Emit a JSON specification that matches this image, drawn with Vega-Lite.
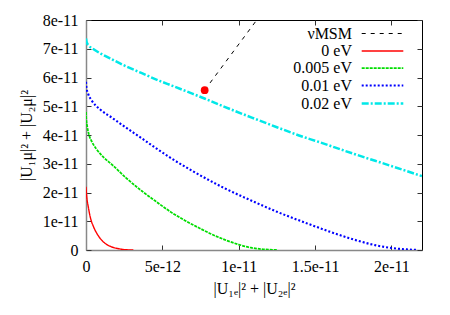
{
  "$schema": "https://vega.github.io/schema/vega-lite/v6.json",
  "width": 336,
  "height": 230,
  "autosize": "none",
  "padding": {"left": 86, "top": 20, "right": 28, "bottom": 65},
  "background": "white",
  "config": {
    "view": {"stroke": "black", "strokeWidth": 1},
    "font": "Liberation Serif",
    "axis": {
      "labelFont": "Liberation Serif", "labelFontSize": 16, "labelColor": "black",
      "titleFont": "Liberation Serif", "titleFontSize": 16, "titleFontWeight": "normal", "titleColor": "black",
      "grid": false, "tickSize": -5, "tickColor": "#333", "domainColor": "#888", "domainWidth": 1.5,
      "labelFlush": false, "labelOverlap": false
    },
    "legend": {
      "orient": "none", "legendX": 287, "legendY": 5, "padding": 0,
      "symbolType": "M-2.6,0H2.6", "symbolSize": 256, "labelAlign": "right", "labelOffset": -40,
      "labelFont": "Liberation Serif", "labelFontSize": 16, "labelColor": "black",
      "rowPadding": 0, "labelLimit": 0
    }
  },
  "datasets": {
    "curves": [
      {"s": "νMSM", "x": 7.77e-12, "y": 5.56e-11},
      {"s": "νMSM", "x": 1.118e-11, "y": 8.0e-11},
      {"s": "0 eV", "x": 0, "y": 2.2e-11},
      {"s": "0 eV", "x": 5e-14, "y": 1.85e-11},
      {"s": "0 eV", "x": 1.5e-13, "y": 1.5e-11},
      {"s": "0 eV", "x": 3e-13, "y": 1.1e-11},
      {"s": "0 eV", "x": 5e-13, "y": 8e-12},
      {"s": "0 eV", "x": 8e-13, "y": 5e-12},
      {"s": "0 eV", "x": 1.1e-12, "y": 3e-12},
      {"s": "0 eV", "x": 1.5e-12, "y": 1.5e-12},
      {"s": "0 eV", "x": 2.0e-12, "y": 6e-13},
      {"s": "0 eV", "x": 2.5e-12, "y": 1.5e-13},
      {"s": "0 eV", "x": 3.1e-12, "y": 0},
      {"s": "0.005 eV", "x": 0, "y": 4.8e-11},
      {"s": "0.005 eV", "x": 2e-14, "y": 4.55e-11},
      {"s": "0.005 eV", "x": 8e-14, "y": 4.3e-11},
      {"s": "0.005 eV", "x": 2e-13, "y": 4.0e-11},
      {"s": "0.005 eV", "x": 4e-13, "y": 3.75e-11},
      {"s": "0.005 eV", "x": 7e-13, "y": 3.5e-11},
      {"s": "0.005 eV", "x": 1.2e-12, "y": 3.2e-11},
      {"s": "0.005 eV", "x": 1.7e-12, "y": 2.97e-11},
      {"s": "0.005 eV", "x": 2.6e-12, "y": 2.52e-11},
      {"s": "0.005 eV", "x": 3.66e-12, "y": 2.05e-11},
      {"s": "0.005 eV", "x": 4.5e-12, "y": 1.72e-11},
      {"s": "0.005 eV", "x": 5.61e-12, "y": 1.3e-11},
      {"s": "0.005 eV", "x": 6.5e-12, "y": 1.02e-11},
      {"s": "0.005 eV", "x": 7.5e-12, "y": 7.4e-12},
      {"s": "0.005 eV", "x": 8.3e-12, "y": 5.3e-12},
      {"s": "0.005 eV", "x": 9.07e-12, "y": 3.6e-12},
      {"s": "0.005 eV", "x": 1.0e-11, "y": 1.9e-12},
      {"s": "0.005 eV", "x": 1.08e-11, "y": 8e-13},
      {"s": "0.005 eV", "x": 1.15e-11, "y": 3e-13},
      {"s": "0.005 eV", "x": 1.25e-11, "y": 0},
      {"s": "0.01 eV", "x": 0, "y": 5.85e-11},
      {"s": "0.01 eV", "x": 3e-14, "y": 5.65e-11},
      {"s": "0.01 eV", "x": 1.5e-13, "y": 5.42e-11},
      {"s": "0.01 eV", "x": 4e-13, "y": 5.18e-11},
      {"s": "0.01 eV", "x": 9e-13, "y": 4.9e-11},
      {"s": "0.01 eV", "x": 1.7e-12, "y": 4.6e-11},
      {"s": "0.01 eV", "x": 2.5e-12, "y": 4.3e-11},
      {"s": "0.01 eV", "x": 3.66e-12, "y": 3.88e-11},
      {"s": "0.01 eV", "x": 4.5e-12, "y": 3.57e-11},
      {"s": "0.01 eV", "x": 5.61e-12, "y": 3.18e-11},
      {"s": "0.01 eV", "x": 7.0e-12, "y": 2.74e-11},
      {"s": "0.01 eV", "x": 9.07e-12, "y": 2.15e-11},
      {"s": "0.01 eV", "x": 1.103e-11, "y": 1.67e-11},
      {"s": "0.01 eV", "x": 1.25e-11, "y": 1.33e-11},
      {"s": "0.01 eV", "x": 1.43e-11, "y": 9.6e-12},
      {"s": "0.01 eV", "x": 1.6e-11, "y": 6.3e-12},
      {"s": "0.01 eV", "x": 1.756e-11, "y": 3.6e-12},
      {"s": "0.01 eV", "x": 1.9e-11, "y": 1.6e-12},
      {"s": "0.01 eV", "x": 2.0e-11, "y": 7e-13},
      {"s": "0.01 eV", "x": 2.1e-11, "y": 2e-13},
      {"s": "0.01 eV", "x": 2.17e-11, "y": 0},
      {"s": "0.02 eV", "x": 0, "y": 7.36e-11},
      {"s": "0.02 eV", "x": 5e-14, "y": 7.22e-11},
      {"s": "0.02 eV", "x": 2e-13, "y": 7.1e-11},
      {"s": "0.02 eV", "x": 5e-13, "y": 6.98e-11},
      {"s": "0.02 eV", "x": 1.0e-12, "y": 6.82e-11},
      {"s": "0.02 eV", "x": 1.7e-12, "y": 6.63e-11},
      {"s": "0.02 eV", "x": 2.5e-12, "y": 6.42e-11},
      {"s": "0.02 eV", "x": 3.66e-12, "y": 6.15e-11},
      {"s": "0.02 eV", "x": 4.83e-12, "y": 5.88e-11},
      {"s": "0.02 eV", "x": 5.61e-12, "y": 5.72e-11},
      {"s": "0.02 eV", "x": 7.0e-12, "y": 5.43e-11},
      {"s": "0.02 eV", "x": 7.8e-12, "y": 5.26e-11},
      {"s": "0.02 eV", "x": 9.07e-12, "y": 4.98e-11},
      {"s": "0.02 eV", "x": 1.103e-11, "y": 4.57e-11},
      {"s": "0.02 eV", "x": 1.25e-11, "y": 4.27e-11},
      {"s": "0.02 eV", "x": 1.43e-11, "y": 3.92e-11},
      {"s": "0.02 eV", "x": 1.5e-11, "y": 3.8e-11},
      {"s": "0.02 eV", "x": 1.756e-11, "y": 3.34e-11},
      {"s": "0.02 eV", "x": 2.0e-11, "y": 2.92e-11},
      {"s": "0.02 eV", "x": 2.2e-11, "y": 2.57e-11}
    ],
    "dot": [
      {"x": 7.77e-12, "y": 5.56e-11}
    ]
  },
  "layer": [
    {
      "data": {"name": "curves"},
      "mark": {"type": "line", "clip": true, "interpolate": "monotone"},
      "encoding": {
        "x": {
          "field": "x", "type": "quantitative",
          "scale": {"domain": [0, 2.2e-11], "nice": false, "zero": false},
          "axis": {
            "orient": "bottom", "values": [0, 5e-12, 1e-11, 1.5e-11, 2e-11],
            "labelExpr": "datum.value == 0 ? '0' : format(datum.value, '~e')",
            "labelPadding": 13, "title": "|U₁ₑ|² + |U₂ₑ|²", "titlePadding": 6
          }
        },
        "y": {
          "field": "y", "type": "quantitative",
          "scale": {"domain": [0, 8e-11], "nice": false, "zero": false},
          "axis": {
            "orient": "left", "values": [0, 1e-11, 2e-11, 3e-11, 4e-11, 5e-11, 6e-11, 7e-11, 8e-11],
            "labelExpr": "datum.value == 0 ? '0' : format(datum.value, '~e')",
            "labelPadding": 13, "title": "|U₁μ|² + |U₂μ|²", "titlePadding": 8
          }
        },
        "color": {
          "field": "s", "type": "nominal", "title": null,
          "scale": {"domain": ["νMSM", "0 eV", "0.005 eV", "0.01 eV", "0.02 eV"], "range": ["#000000", "#ff0000", "#00dd00", "#0000ff", "#00e8e8"]}
        },
        "strokeDash": {
          "field": "s", "type": "nominal", "title": null,
          "scale": {"domain": ["νMSM", "0 eV", "0.005 eV", "0.01 eV", "0.02 eV"], "range": [[4, 5], [1, 0], [3, 1], [2, 2], [7, 2, 2, 2]]}
        },
        "strokeWidth": {
          "field": "s", "type": "nominal", "title": null,
          "scale": {"domain": ["νMSM", "0 eV", "0.005 eV", "0.01 eV", "0.02 eV"], "range": [1, 2.5, 2.5, 2, 1.8]}
        }
      }
    },
    {
      "data": {"name": "dot"},
      "mark": {"type": "point", "filled": true, "color": "#ff0000", "size": 60, "opacity": 1},
      "encoding": {
        "x": {
          "field": "x", "type": "quantitative",
          "scale": {"domain": [0, 2.2e-11], "nice": false, "zero": false},
          "axis": {"orient": "top", "labels": false, "title": null, "domain": false, "values": [0, 5e-12, 1e-11, 1.5e-11, 2e-11]}
        },
        "y": {
          "field": "y", "type": "quantitative",
          "scale": {"domain": [0, 8e-11], "nice": false, "zero": false},
          "axis": {"orient": "right", "labels": false, "title": null, "domain": false, "values": [0, 1e-11, 2e-11, 3e-11, 4e-11, 5e-11, 6e-11, 7e-11, 8e-11]}
        }
      }
    }
  ]
}
